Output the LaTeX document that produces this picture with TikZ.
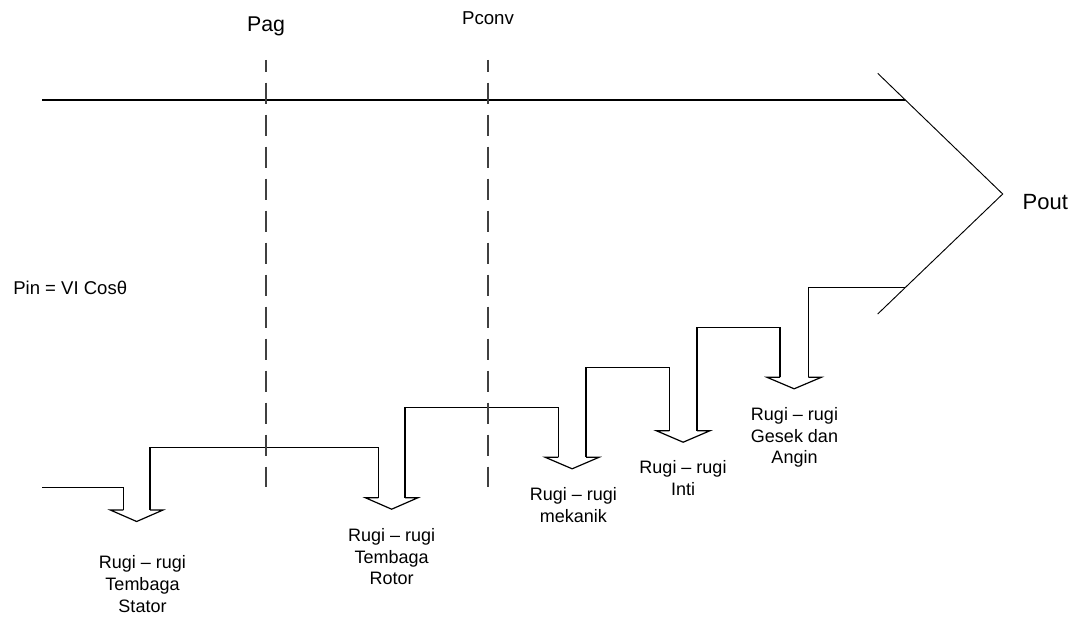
\documentclass[tikz,border=0pt]{standalone}
\usepackage{fontspec}
\setmainfont{Liberation Sans}
\usepackage{tikz}
\usetikzlibrary{calc}
\newcommand{\rugihead}[2]{
    \draw (#1) -- ++(-13,0) -- ($(#1)!0.5!(#2)+(0,11.5)$) -- ($(#2)+(13,0)$) -- (#2);
}

\begin{document}
\begin{tikzpicture}[x=0.75pt,y=-0.75pt,line width=0.9pt,
        rugi/.style={anchor=north,align=center,inner sep=0pt,font=\fontsize{13.5}{16.3}\selectfont},
        batas/.style={line width=1.3pt,black!75,dash pattern=on 15.75pt off 8.25pt,dash phase=7pt}]
        \useasboundingbox (0,0) rectangle (1080,617);
        % garis daya
        \coordinate (inAtas) at (42,100);
        \coordinate (inBawah) at (42,487.7);
        \coordinate (ujung) at (1002.7,194);
        \coordinate (atas) at (877.7,73.3);
        \coordinate (bawah) at (877.7,314);
        \coordinate (sL) at (123.3,510);
        \coordinate (sR) at (150,510);
        \coordinate (rL) at (378.3,497.7);
        \coordinate (rR) at (405,497.7);
        \coordinate (mL) at (558.3,457.3);
        \coordinate (mR) at (586,457.3);
        \coordinate (iL) at (669.3,430.7);
        \coordinate (iR) at (697,430.7);
        \coordinate (gL) at (780,377.3);
        \coordinate (gR) at (808.3,377.3);
        \draw (inAtas) -- (905,100);
        \draw[line width=0.7pt] (atas) -- (ujung) -- (bawah);
        \draw (inBawah) -| (sL);
        \draw (sR) -- (150,447.7) -| (rL);
        \draw (rR) -- (405,407.3) -| (mL);
        \draw (mR) -- (586,367.3) -| (iL);
        \draw (iR) -- (697,327.7) -| (gL);
        \draw (gR) -- (808.3,287.3) -- (905,287.3);
        \rugihead{sL}{sR}
        \rugihead{rL}{rR}
        \rugihead{mL}{mR}
        \rugihead{iL}{iR}
        \rugihead{gL}{gR}
        % batas Pag dan Pconv
        \draw[batas] (266,60) -- (266,487);
        \draw[batas] (488.3,60) -- (488.3,487);
        \node[anchor=base,inner sep=0pt,font=\fontsize{16}{19}\selectfont] (pag) at (266,31.7) {Pag};
        \node[anchor=base,inner sep=0pt,font=\fontsize{14}{17}\selectfont] (pconv) at (488,25) {Pconv};
        \node[anchor=base west,inner sep=0pt,font=\fontsize{13.9}{17}\selectfont] (pin) at (12.7,294) {Pin = VI Cosθ};
        \node[anchor=base west,inner sep=0pt,font=\fontsize{16.5}{19}\selectfont] (pout) at (1022,209.3) {Pout};
        % rugi-rugi
        \node[rugi] (stator) at (142.5,555) {Rugi – rugi\\Tembaga\\Stator};
        \node[rugi] (rotor) at (391.7,527.7) {Rugi – rugi\\Tembaga\\Rotor};
        \node[rugi] (mekanik) at (573.3,486.7) {Rugi – rugi\\mekanik};
        \node[rugi] (inti) at (683,460) {Rugi – rugi\\Inti};
        \node[rugi] (gesek) at (794.5,406.7) {Rugi – rugi\\Gesek dan\\Angin};
    \end{tikzpicture}
\end{document}
